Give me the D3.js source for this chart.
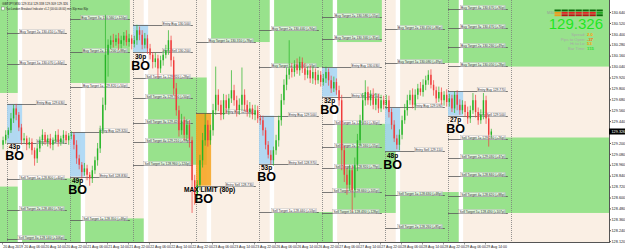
<!DOCTYPE html>
<html>
<head>
<meta charset="utf-8">
<script src="https://cdn.jsdelivr.net/npm/d3@7"></script>
<style>
  body { margin: 0; background: #fff; }
  svg { display: block; font-family: "Liberation Sans", Arial, sans-serif; }
</style>
</head>
<body>
<svg id="chart" width="625" height="249"></svg>
<script>
// ---- data ----
const firstOpen = 129.18;
// hourly closes, first bar 2h before the 20 Aug session
const closes = [129.23, 129.29,
  129.34,129.47,129.58,129.51,129.37,129.23,129.25,129.18,129.21,129.12,129.03,129.14,129.23,129.29,129.21,129.25,129.18,129.23,129.29,129.21,129.25,129.29,129.23,129.28,
  129.29,129.18,129.03,128.96,128.88,128.92,128.85,128.81,128.90,129.01,129.14,129.34,129.62,130.17,130.28,130.33,130.31,130.35,130.29,130.33,130.38,130.31,130.35,130.29,
  130.33,130.44,130.39,130.28,130.35,130.24,130.17,130.09,130.13,130.02,130.11,130.17,130.22,130.33,130.11,129.80,129.56,129.34,129.45,129.29,129.40,129.23,128.79,128.63,
  128.74,129.01,129.23,129.40,129.23,129.34,129.56,129.73,129.62,129.51,129.67,129.58,129.69,129.78,129.67,129.56,129.62,129.73,129.62,129.54,129.58,129.51,129.56,129.47,
  129.45,129.34,129.18,129.07,129.01,129.12,129.23,129.45,129.67,129.84,129.95,130.02,129.98,130.06,130.00,130.09,130.02,129.95,130.00,129.91,129.98,129.89,129.95,129.87,
  129.91,129.98,129.89,129.80,129.87,129.78,129.67,129.12,128.85,128.74,128.90,128.68,128.96,129.23,129.45,129.67,129.76,129.67,129.73,129.62,129.69,129.58,129.67,129.62,
  129.67,129.54,129.40,129.25,129.18,129.29,129.45,129.56,129.67,129.73,129.62,129.73,129.80,129.76,129.84,129.89,129.95,129.84,129.78,129.69,129.76,129.67,129.73,129.65,
  129.69,129.58,129.73,129.62,129.56,129.62,129.54,129.47,129.56,129.67,129.54,129.45,129.51,129.67,129.47,129.29,129.326];
// wick lengths beyond the body, in pips
const wickUp = [4,5,
  3,6,4,5,3,4,6,3,5,4,3,5,4,6,3,4,5,3,4,6,3,5,4,3,
  4,3,5,4,3,6,4,3,5,4,6,5,8,44,6,5,7,4,6,5,4,6,5,4,
  5,6,4,5,6,4,5,3,6,4,5,4,6,11,5,4,6,5,7,4,6,5,4,6,
  5,6,8,13,5,6,7,31,6,5,7,6,5,22,6,5,7,30,6,5,7,4,6,5,
  4,5,3,4,5,4,6,5,7,6,8,31,6,5,7,6,5,6,4,5,6,4,5,4,
  5,6,4,5,6,4,5,6,5,7,6,5,8,7,6,8,13,6,5,7,6,5,6,5,
  6,5,4,5,4,6,5,7,6,5,7,6,5,7,6,5,5,6,5,4,6,5,4,6,
  5,4,4,5,6,5,4,6,5,8,6,5,6,8,5,4,3];
const wickDn = [5,4,
  4,3,5,6,4,5,3,6,4,5,8,5,4,6,3,5,4,6,3,5,4,6,3,5,
  4,5,6,5,9,4,6,8,5,4,6,5,4,6,24,5,6,4,7,5,6,4,5,6,
  4,5,6,5,4,6,5,7,6,10,5,6,4,5,7,8,6,7,5,6,7,8,36,11,
  7,6,8,6,7,5,6,5,7,6,5,6,7,5,6,7,5,6,7,5,6,5,6,5,
  5,6,5,4,5,6,5,7,6,5,6,5,6,5,4,6,5,6,4,5,6,5,4,5,
  4,5,6,5,4,5,6,22,8,11,7,24,8,7,6,5,6,5,6,5,6,5,4,5,
  5,6,5,4,5,6,5,4,6,5,4,6,5,4,5,6,5,4,6,5,4,5,6,5,
  5,4,5,6,5,4,5,6,5,4,6,5,4,5,6,13,3];

// London breakout sessions (day index on the chart)
const sessionDay = [0, 1, 2, 3, 4, 5, 6, 7];
const boxHigh = [129.63, 129.32, 130.50, 129.53, 129.50, 130.03, 129.59, 129.77];
const boxLow  = [129.20, 128.83, 130.20, 128.73, 128.97, 129.71, 129.11, 129.50];
const boxPips = [43, 49, 30, 80, 53, 32, 48, 27];
const maxLimit = [false, false, false, true, false, false, false, false];
const buyTargets = [[130.07, 130.41], [129.82, 130.20, 130.56], [], [130.31], [130.03, 130.44],
  [130.34, 130.58], [130.08, 130.45], [130.05, 130.26, 130.47, 130.67]];
const sellTargets = [[128.80, 128.46, 128.14], [128.35], [129.92, 129.70, 129.42, 129.21, 128.96], [],
  [128.44], [129.41, 129.16, 128.92, 128.66, 128.43], [128.63, 128.26], [129.24, 129.03, 128.84, 128.62, 128.43]];

// green target zones (day from/to, price low/high)
const zoneFrom = [-0.2, 1.0, 3.24, 4.24, 5.24, 6.24, 7.24, -0.2, 0.24, 1.24, 2.24, 4.24, 5.24, 6.24, 7.24];
const zoneTo   = [0.17, 1.95, 4.17, 5.17, 5.95, 7.17, 9.7, 0.17, 1.17, 2.17, 3.17, 5.17, 6.17, 7.17, 9.7];
const zoneLow  = [129.75, 129.86, 130.31, 130.03, 130.31, 130.08, 130.04, 127.5, 127.5, 127.5, 128.96, 127.5, 128.43, 127.5, 128.43];
const zoneHigh = [131.5, 131.5, 131.5, 131.5, 131.5, 131.5, 131.5, 128.72, 128.81, 128.37, 129.92, 128.44, 129.41, 128.66, 129.26];

// axes
const priceTicks = [128.12, 128.24, 128.36, 128.48, 128.60, 128.72, 128.84, 128.96, 129.08, 129.20, 129.32,
  129.44, 129.56, 129.68, 129.80, 129.92, 130.04, 130.16, 130.28, 130.40, 130.52, 130.64];
const timeTickHours = [-2, 6, 14, 22, 30, 38, 46, 54, 62, 70, 78, 86, 94, 102, 110, 118, 126, 134, 142, 150, 158, 166, 174, 182];
const timeTickLabels = ['20 Aug 2019', '20 Aug 06:00', '20 Aug 14:00', '20 Aug 22:00', '21 Aug 06:00', '21 Aug 14:00',
  '21 Aug 22:00', '22 Aug 06:00', '22 Aug 14:00', '22 Aug 22:00', '23 Aug 06:00', '23 Aug 14:00', '23 Aug 22:00',
  '26 Aug 06:00', '26 Aug 14:00', '26 Aug 22:00', '27 Aug 06:00', '27 Aug 14:00', '27 Aug 22:00', '28 Aug 06:00',
  '28 Aug 14:00', '28 Aug 22:00', '29 Aug 06:00', '29 Aug 14:00'];
const lastPrice = 129.326;

// info panel
const infoLabels = ['Spread:', 'Pips to Open:', 'Hi to Lo:', 'Bar Time:'];
const infoValues = ['2.0', '-37', '53', '115'];
const infoColours = ['#ff9a00', '#ff6a00', '#ff9a00', '#2ee02e'];
const meterRows = [
  ['#0b6b0b', '#0b6b0b', '#0b6b0b', '#0b6b0b', '#0b6b0b', '#0b6b0b', '#0b6b0b'],
  ['#f09a1c', '#e32222', '#e32222', '#e32222', '#e32222', '#e32222', '#22a622'],
  ['#f09a1c', '#b81414', '#b81414', '#b81414', '#b81414', '#b81414', '#0b6b0b']];

// ---- drawing ----
const plotW = 609, plotH = 242;
const svg = d3.select('#chart');

// x in days, day 0 starts at the first breakout box
const x = d3.scaleLinear().domain([-7 / 63, 602 / 63]).range([0, plotW]);
const y = d3.scaleLinear().domain([128.105, 130.745]).range([242.5, 2.5]);

svg.append('defs').append('clipPath').attr('id', 'plotClip')
  .append('rect').attr('x', 0).attr('y', 0).attr('width', plotW).attr('height', plotH);

const plot = svg.append('g').attr('clip-path', 'url(#plotClip)');

plot.append('rect')
  .attr('width', plotW).attr('height', plotH)
  .attr('fill', '#faefe4');

// white strips at the end of each box period
plot.append('g').selectAll('rect').data(sessionDay).join('rect')
  .attr('x', d => x(d + 0.17))
  .attr('width', d => x(d + 0.24) - x(d + 0.17))
  .attr('y', 0).attr('height', plotH)
  .attr('fill', '#ffffff');

// green target zones
plot.append('g').selectAll('rect').data(d3.range(zoneFrom.length)).join('rect')
  .attr('x', i => x(zoneFrom[i]))
  .attr('width', i => x(zoneTo[i]) - x(zoneFrom[i]))
  .attr('y', i => y(zoneHigh[i]))
  .attr('height', i => y(zoneLow[i]) - y(zoneHigh[i]))
  .attr('fill', '#98e28c');

// day separators
plot.append('g').selectAll('line').data(d3.range(0, 9)).join('line')
  .attr('x1', d => Math.round(x(d)) + 0.5).attr('x2', d => Math.round(x(d)) + 0.5)
  .attr('y1', 0).attr('y2', plotH)
  .attr('stroke', '#7a7a7a').attr('stroke-width', 0.8)
  .attr('stroke-dasharray', '1,1');

// breakout boxes
plot.append('g').selectAll('rect').data(sessionDay).join('rect')
  .attr('x', i => x(i))
  .attr('width', i => x(i + 0.24) - x(i))
  .attr('y', i => y(boxHigh[i]))
  .attr('height', i => y(boxLow[i]) - y(boxHigh[i]))
  .attr('fill', i => maxLimit[i] ? '#f6a11a' : '#a4d3f3')
  .attr('fill-opacity', 0.85);

// entry and target levels with their labels
const levels = plot.append('g');
function addLevel(day, price, label) {
  const x1 = x(day), x2 = x(day + 0.95);
  const yy = Math.round(y(price)) + 0.5;
  levels.append('line')
    .attr('x1', x1).attr('x2', x2).attr('y1', yy).attr('y2', yy)
    .attr('stroke', '#5a5a5a').attr('stroke-width', 0.8);
  const t = levels.append('text')
    .attr('x', x2 - 3).attr('y', yy - 1)
    .attr('text-anchor', 'end')
    .attr('font-size', 3.3)
    .attr('fill', '#333')
    .text(label);
  const bb = t.node().getBBox();
  levels.insert('rect', () => t.node())
    .attr('x', bb.x - 0.6).attr('y', bb.y - 0.2)
    .attr('width', bb.width + 1.2).attr('height', bb.height + 0.4)
    .attr('fill', '#ffffff').attr('fill-opacity', 0.7)
    .attr('stroke', '#9a9a9a').attr('stroke-width', 0.3);
}
sessionDay.forEach(i => {
  addLevel(i, boxHigh[i], `Entry Buy ${boxHigh[i].toFixed(3)}`);
  addLevel(i, boxLow[i], `Entry Sell ${boxLow[i].toFixed(3)}`);
  buyTargets[i].forEach((p, k) => addLevel(i, p,
    `Buy Target ${k + 1}= ${p.toFixed(3)} (+${Math.round((p - boxHigh[i]) * 100)}p)`));
  sellTargets[i].forEach((p, k) => addLevel(i, p,
    `Sell Target ${k + 1}= ${p.toFixed(3)} (+${Math.round((boxLow[i] - p) * 100)}p)`));
});

// candles
const bars = closes.map((c, i) => {
  const o = i === 0 ? firstOpen : closes[i - 1];
  return {
    t: (i - 2) / 24, o: o, c: c,
    h: Math.max(o, c) + wickUp[i] / 100,
    l: Math.min(o, c) - wickDn[i] / 100
  };
});
const candleG = plot.append('g');
const hourW = x(1 / 24) - x(0);
const cg = candleG.selectAll('g').data(bars).join('g')
  .attr('fill', d => d.c >= d.o ? '#26b526' : '#f03c3c')
  .attr('stroke', d => d.c >= d.o ? '#26b526' : '#f03c3c');
cg.append('line')
  .attr('x1', d => x(d.t) + hourW / 2).attr('x2', d => x(d.t) + hourW / 2)
  .attr('y1', d => y(d.h)).attr('y2', d => y(d.l))
  .attr('stroke-width', 0.7);
cg.append('rect')
  .attr('x', d => x(d.t) + hourW / 2 - 0.7)
  .attr('width', 1.4)
  .attr('y', d => y(Math.max(d.o, d.c)))
  .attr('height', d => Math.max(0.8, Math.abs(y(d.o) - y(d.c))))
  .attr('stroke', 'none');

// BO labels under each box
const boG = plot.append('g').attr('fill', '#000').attr('font-weight', 'bold').attr('text-anchor', 'middle');
sessionDay.forEach(i => {
  const cx = (x(i) + x(i + 0.24)) / 2;
  const yl = y(boxLow[i]);
  boG.append('text')
    .attr('x', maxLimit[i] ? cx + 6 : cx).attr('y', yl + 6.5)
    .attr('font-size', maxLimit[i] ? 6.6 : 6.5)
    .text(maxLimit[i] ? `MAX LIMIT (${boxPips[i]}p)` : `${boxPips[i]}p`);
  boG.append('text')
    .attr('x', cx).attr('y', yl + 17.5)
    .attr('font-size', 12.5)
    .text('BO');
});

// right price axis
const yAxis = svg.append('g').attr('transform', `translate(${plotW},0)`);
yAxis.append('rect').attr('x', 0).attr('y', 0).attr('width', 16).attr('height', 249).attr('fill', '#fff');
yAxis.append('line').attr('x1', 0.5).attr('x2', 0.5).attr('y1', 0).attr('y2', plotH)
  .attr('stroke', '#555').attr('stroke-width', 1);
yAxis.call(d3.axisRight(y).tickValues(priceTicks).tickSize(2).tickSizeOuter(0).tickFormat(d3.format('.3f')))
  .call(g => g.select('.domain').remove())
  .call(g => g.selectAll('.tick line').attr('stroke', '#555'))
  .call(g => g.selectAll('.tick text').attr('x', 2.5).attr('font-size', 3.8).attr('fill', '#222')
    .attr('font-family', '"Liberation Sans", Arial, sans-serif'));
yAxis.append('rect')
  .attr('x', 0).attr('y', y(lastPrice) - 3).attr('width', 16).attr('height', 6)
  .attr('fill', '#000');
yAxis.append('text')
  .attr('x', 2.5).attr('y', y(lastPrice)).attr('dy', '0.35em')
  .attr('font-size', 3.8).attr('fill', '#fff')
  .text(lastPrice.toFixed(3));

// bottom time axis
const xAxis = svg.append('g').attr('transform', `translate(0,${plotH})`);
xAxis.append('line').attr('x1', 0).attr('x2', plotW + 1).attr('y1', 0.5).attr('y2', 0.5)
  .attr('stroke', '#555');
const ticks = xAxis.selectAll('g.t').data(timeTickHours).join('g').attr('class', 't')
  .attr('transform', h => `translate(${Math.round(x(h / 24)) + 0.5},0)`);
ticks.append('line').attr('y1', 0).attr('y2', 2.5).attr('stroke', '#555').attr('stroke-width', 0.6);
ticks.append('text')
  .attr('x', 0.8).attr('y', 5.8)
  .attr('font-size', 3.5).attr('fill', '#222')
  .text((h, i) => timeTickLabels[i]);

// info panel, top right
const info = svg.append('g');
meterRows.forEach((row, r) => {
  info.selectAll(null).data(row).join('rect')
    .attr('x', (c, k) => 554.5 + k * 7)
    .attr('y', 9.5 + r * 2.4)
    .attr('width', 6.3).attr('height', 1.9)
    .attr('fill', c => c);
});
info.append('text').attr('x', 547).attr('y', 14).attr('font-size', 3.6).attr('fill', '#9a9a9a').text('M30');
info.append('text')
  .attr('x', 603).attr('y', 28.5).attr('text-anchor', 'end')
  .attr('font-size', 15).attr('fill', '#1fe81f')
  .text(lastPrice.toFixed(3));
infoLabels.forEach((lab, k) => {
  info.append('text').attr('x', 585.5).attr('y', 36 + k * 4.7).attr('text-anchor', 'end')
    .attr('font-size', 4.1).attr('fill', '#a8a8a8').text(lab);
  info.append('text').attr('x', 587).attr('y', 36 + k * 4.7)
    .attr('font-size', 4.3).attr('font-weight', 'bold').attr('fill', infoColours[k]).text(infoValues[k]);
});

// chart title lines
const title = svg.append('g').attr('fill', '#222');
title.append('text').attr('x', 2).attr('y', 4.6).attr('font-size', 3.8)
  .attr('textLength', 66).attr('lengthAdjust', 'spacingAndGlyphs')
  .text('GBPJPY,M30  129.314 129.338 129.309 129.326');
title.append('rect').attr('x', 1.5).attr('y', 7).attr('width', 3).attr('height', 3)
  .attr('fill', '#fff').attr('stroke', '#666').attr('stroke-width', 0.4);
title.append('text').attr('x', 6).attr('y', 10).attr('font-size', 3.6)
  .attr('textLength', 82).attr('lengthAdjust', 'spacingAndGlyphs')
  .text('Tax London Breakout Indicator v1.2 (00:00-06:00) min 30p max 80p');
</script>
</body>
</html>
